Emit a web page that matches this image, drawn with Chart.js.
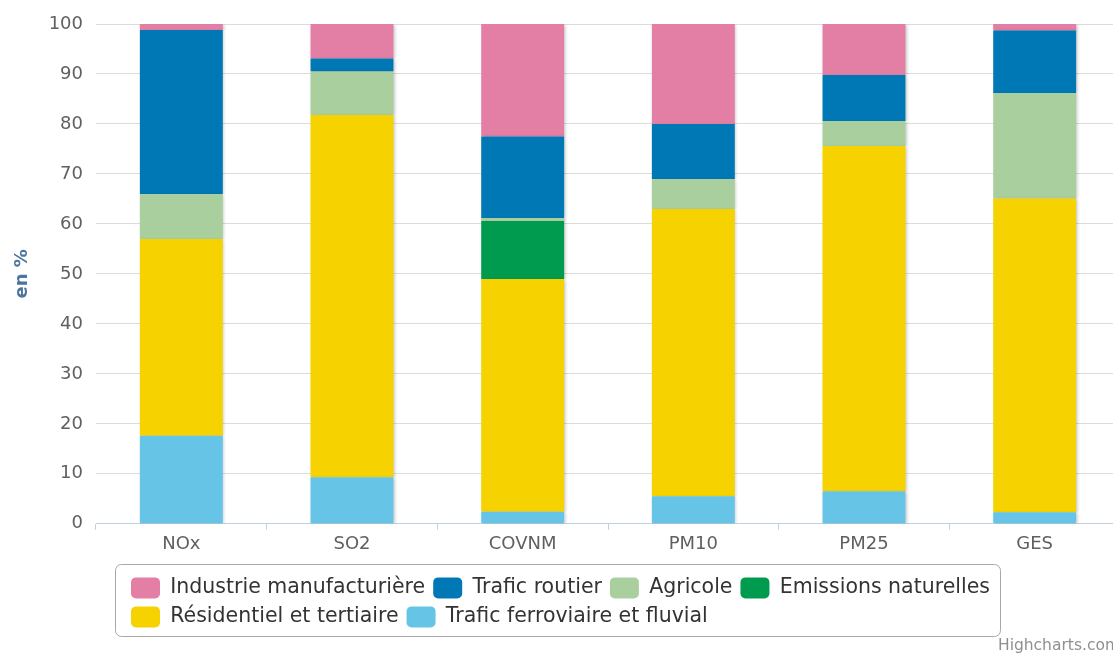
<!DOCTYPE html>
<html lang="fr">
<head>
<meta charset="utf-8">
<title>Emissions par secteur</title>
<script src="https://cdn.jsdelivr.net/npm/chart.js@4.4.1/dist/chart.umd.min.js"></script>
<style>
  html, body { margin: 0; padding: 0; background: #fff; overflow: hidden; }
  #wrap { width: 1120px; height: 655px; }
</style>
</head>
<body>
<div id="wrap"><canvas id="emissionsChart" width="1120" height="655"></canvas></div>
<script>
// Polluants (axe X)
const categories = ['NOx', 'SO2', 'COVNM', 'PM10', 'PM25', 'GES'];

// Parts par secteur, en %
const industrie   = [1.2, 6.9, 22.6, 20.0, 10.2, 1.3];
const routier     = [32.8, 2.6, 16.3, 11.0, 9.2, 12.5];
const agricole    = [9.0, 8.7, 0.6, 6.0, 5.0, 21.1];
const naturelles  = [0, 0, 11.6, 0, 0, 0];
const residentiel = [39.4, 72.5, 46.6, 57.5, 69.1, 62.8];
const ferroviaire = [17.6, 9.3, 2.4, 5.5, 6.5, 2.3];

// Axe Y
const yMin = 0, yMax = 100, yStep = 10;

// Ombre légère sous les barres (comme Highcharts)
const barShadow = {
    id: 'barShadow',
    beforeDatasetsDraw(chart) {
        const ctx = chart.ctx;
        ctx.save();
        ctx.shadowColor = 'rgba(0,0,0,0.22)';
        ctx.shadowOffsetX = 1.5;
        ctx.shadowOffsetY = 1;
        ctx.shadowBlur = 3;
    },
    afterDatasetsDraw(chart) {
        chart.ctx.restore();
    }
};

// Légende décalée, avec un cadre arrondi
const legendFrame = {
    id: 'legendFrame',
    afterUpdate(chart) {
        const lg = chart.legend;
        const dx = 123 - lg.left;
        const dy = 1;
        lg.left += dx;
        lg.right += dx;
        lg.top += dy;
        lg.bottom += dy;
        lg.legendHitBoxes.forEach(h => { h.left += dx; h.top += dy; });
    },
    afterDraw(chart) {
        const lg = chart.legend;
        const boxes = lg.legendHitBoxes;
        if (!boxes.length) return;
        const x0 = Math.min(...boxes.map(h => h.left)) - 16;
        const x1 = Math.max(...boxes.map(h => h.left + h.width)) + 10;
        const y0 = Math.min(...boxes.map(h => h.top)) - 13;
        const y1 = Math.max(...boxes.map(h => h.top + h.height)) + 9;
        const ctx = chart.ctx;
        ctx.save();
        ctx.strokeStyle = '#a8a8a8';
        ctx.lineWidth = 1;
        ctx.beginPath();
        ctx.roundRect(Math.round(x0) + 0.5, Math.round(y0) + 0.5, Math.round(x1 - x0), Math.round(y1 - y0), 6);
        ctx.stroke();
        ctx.restore();
    }
};

Chart.defaults.font.family = '"DejaVu Sans", Verdana, sans-serif';
Chart.defaults.color = '#606060';

const ctx = document.getElementById('emissionsChart').getContext('2d');
const emissionsChart = new Chart(ctx, {
    type: 'bar',
    data: {
        labels: categories,
        datasets: [
            { label: 'Trafic ferroviaire et fluvial', data: ferroviaire, backgroundColor: '#66c5e6' },
            { label: 'Résidentiel et tertiaire', data: residentiel, backgroundColor: '#f6d200' },
            { label: 'Emissions naturelles', data: naturelles, backgroundColor: '#009b4f' },
            { label: 'Agricole', data: agricole, backgroundColor: '#a9cf9f' },
            { label: 'Trafic routier', data: routier, backgroundColor: '#0078b6' },
            { label: 'Industrie manufacturière', data: industrie, backgroundColor: '#e37fa4' }
        ]
    },
    options: {
        responsive: false,
        animation: false,
        layout: { padding: { top: 24, right: 0, bottom: 0, left: 0 } },
        datasets: {
            bar: { categoryPercentage: 0.486, barPercentage: 1, borderWidth: 0 }
        },
        plugins: {
            legend: {
                position: 'bottom',
                align: 'start',
                fullSize: false,
                reverse: true,
                labels: {
                    boxWidth: 29,
                    boxHeight: 21,
                    padding: 8,
                    useBorderRadius: true,
                    borderRadius: 5,
                    color: '#333333',
                    font: { size: 20.5 }
                }
            },
            title: {
                display: true,
                position: 'bottom',
                align: 'end',
                text: 'Highcharts.com',
                color: '#909090',
                font: { size: 15.5, weight: 'normal' },
                padding: { top: 0, bottom: 0 }
            },
            tooltip: { enabled: false }
        },
        scales: {
            x: {
                stacked: true,
                border: { color: '#c0d0e0' },
                grid: { drawOnChartArea: false, drawTicks: true, tickLength: 6, color: '#c0d0e0' },
                ticks: { padding: 4, font: { size: 18 }, color: '#606060' },
                afterFit(scale) { scale.height += 9; }
            },
            y: {
                stacked: true,
                min: yMin,
                max: yMax,
                border: { display: false },
                grid: { color: '#dcdcdc', drawTicks: false },
                ticks: { stepSize: yStep, padding: 13, font: { size: 18 }, color: '#606060' },
                title: {
                    display: true,
                    text: 'en %',
                    color: '#4d759e',
                    font: { size: 18, weight: 'bold' },
                    padding: { top: 12, bottom: 0 }
                },
                afterFit(scale) { scale.width = 96; }
            }
        }
    },
    plugins: [barShadow, legendFrame]
});
</script>
</body>
</html>
